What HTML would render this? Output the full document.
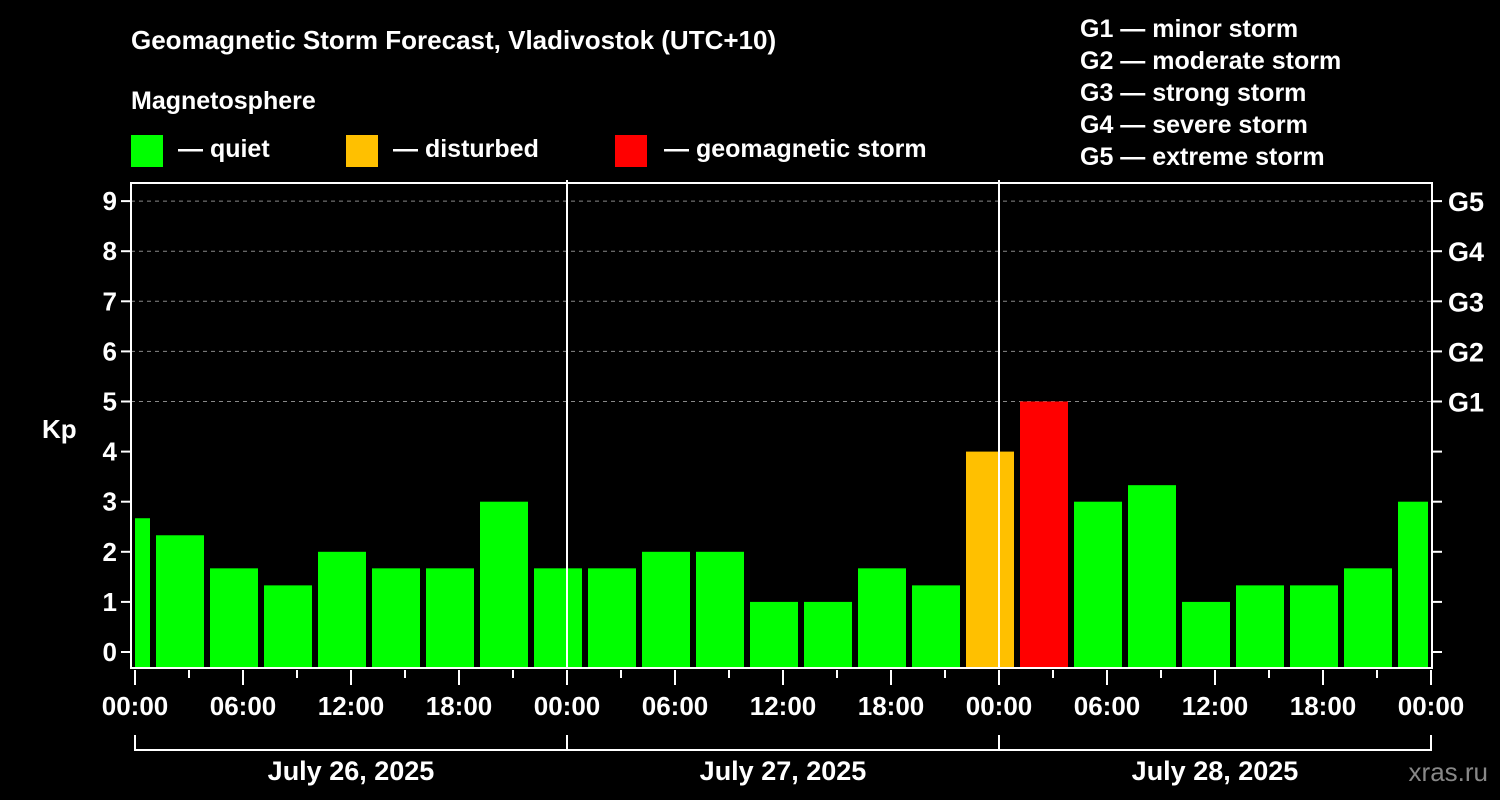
<!DOCTYPE html>
<html><head><meta charset="utf-8">
<style>
html,body{margin:0;padding:0;background:#000;}
svg{display:block;font-family:"Liberation Sans",Arial,sans-serif;font-weight:bold;}
</style></head>
<body>
<svg id="chart" width="1500" height="800" viewBox="0 0 1500 800">
<rect width="1500" height="800" fill="#000"/>
<text x="131" y="49" fill="#fff" font-size="26">Geomagnetic Storm Forecast, Vladivostok (UTC+10)</text>
<text x="131" y="109" fill="#fff" font-size="25">Magnetosphere</text>
<g><rect x="131" y="135" width="32" height="32" fill="#00ff00"/><text x="178" y="157" fill="#fff" font-size="25">— quiet</text></g>
<g><rect x="346" y="135" width="32" height="32" fill="#ffc000"/><text x="393" y="157" fill="#fff" font-size="25">— disturbed</text></g>
<g><rect x="615" y="135" width="32" height="32" fill="#ff0000"/><text x="664" y="157" fill="#fff" font-size="25">— geomagnetic storm</text></g>
<g fill="#fff" font-size="25">
<text x="1080" y="37">G1 — minor storm</text>
<text x="1080" y="69">G2 — moderate storm</text>
<text x="1080" y="101">G3 — strong storm</text>
<text x="1080" y="133">G4 — severe storm</text>
<text x="1080" y="165">G5 — extreme storm</text>
</g>
<text x="42" y="438" fill="#fff" font-size="26">Kp</text>
<text x="1488" y="781" fill="#888" font-size="26" font-weight="normal" text-anchor="end">xras.ru</text>
<g id="grid"></g><g id="bars"></g><g id="axes"></g>
</svg>
<script>
const kpValues = [2.67,2.33,1.67,1.33,2,1.67,1.67,3,1.67,1.67,2,2,1,1,1.67,1.33,4,5,3,3.33,1,1.33,1.33,1.67,3];
const barStartHours = [-2,1,4,7,10,13,16,19,22,25,28,31,34,37,40,43,46,49,52,55,58,61,64,67,70];
const yTicks = [0,1,2,3,4,5,6,7,8,9];
const gLabels = ["G1","G2","G3","G4","G5"];
const gLevels = [5,6,7,8,9];
const xTickLabels = ["00:00","06:00","12:00","18:00","00:00","06:00","12:00","18:00","00:00","06:00","12:00","18:00","00:00"];
const dayLabels = ["July 26, 2025","July 27, 2025","July 28, 2025"];

const NS="http://www.w3.org/2000/svg";
const X0=135, PXH=18, Y0=652, PXK=50.1, LEFT=131, RIGHT=1432, TOP=183, BOT=668;
const xs=h=>X0+h*PXH, ys=k=>Y0-k*PXK;
function mk(tag,attrs,parent,text){const e=document.createElementNS(NS,tag);for(const k in attrs)e.setAttribute(k,attrs[k]);if(text!=null)e.textContent=text;parent.appendChild(e);return e;}
const grid=document.getElementById('grid'),bars=document.getElementById('bars'),axes=document.getElementById('axes');

yTicks.forEach(v=>{
  if(v>=5){const l=mk('line',{x1:LEFT,x2:RIGHT,y1:ys(v),y2:ys(v),stroke:'#888','stroke-width':1,'stroke-dasharray':'4,4'},grid);
  
  }
  const t=mk('line',{x1:LEFT-10,x2:LEFT,y1:ys(v),y2:ys(v),stroke:'#fff','stroke-width':2},axes);
  
  
  const t2=mk('line',{x1:RIGHT,x2:RIGHT+10,y1:ys(v),y2:ys(v),stroke:'#fff','stroke-width':2},axes);
  
  
  const lb=mk('text',{x:LEFT-14,y:ys(v)+9,fill:'#fff','font-size':26,'text-anchor':'end'},axes,String(v));
  
  
});
gLevels.forEach((v,i)=>{
  const lb=mk('text',{x:RIGHT+16,y:ys(v)+10,fill:'#fff','font-size':27},axes,gLabels[i]);
  
  
});
kpValues.forEach((k,i)=>{
  let a=xs(barStartHours[i])+3, b=xs(barStartHours[i]+3)-3;
  a=Math.max(a,X0); b=Math.min(b,RIGHT-4);
  const col=k>=5?'#ff0000':(k>=4?'#ffc000':'#00ff00');
  const r=mk('rect',{x:a,y:ys(k),width:b-a,height:BOT-ys(k),fill:col},bars);
  
  
});
[1,2].forEach(d=>{
  const l=mk('line',{x1:xs(d*24),x2:xs(d*24),y1:TOP-3,y2:BOT,stroke:'#fff','stroke-width':2},axes);
  
  
});
const fr=mk('rect',{x:LEFT,y:TOP,width:RIGHT-LEFT,height:BOT-TOP,fill:'none',stroke:'#fff','stroke-width':2},axes);


for(let h=0;h<=72;h+=3){
  const major=h%6===0;
  const t=mk('line',{x1:xs(h),x2:xs(h),y1:BOT+2,y2:major?BOT+17:BOT+10,stroke:'#fff','stroke-width':2},axes);
  
  
}
xTickLabels.forEach((s,i)=>{
  const t=mk('text',{x:xs(i*6),y:715,fill:'#fff','font-size':26,'text-anchor':'middle'},axes,s);
  
  
});
dayLabels.forEach((s,i)=>{
  const a=xs(i*24),b=xs(i*24+24);
  const p=mk('path',{d:`M${a},735V750H${b}V735`,fill:'none',stroke:'#fff','stroke-width':2},axes);
  
  
  const t=mk('text',{x:(a+b)/2,y:780,fill:'#fff','font-size':27,'text-anchor':'middle'},axes,s);
  
  
});
</script>
</body></html>
